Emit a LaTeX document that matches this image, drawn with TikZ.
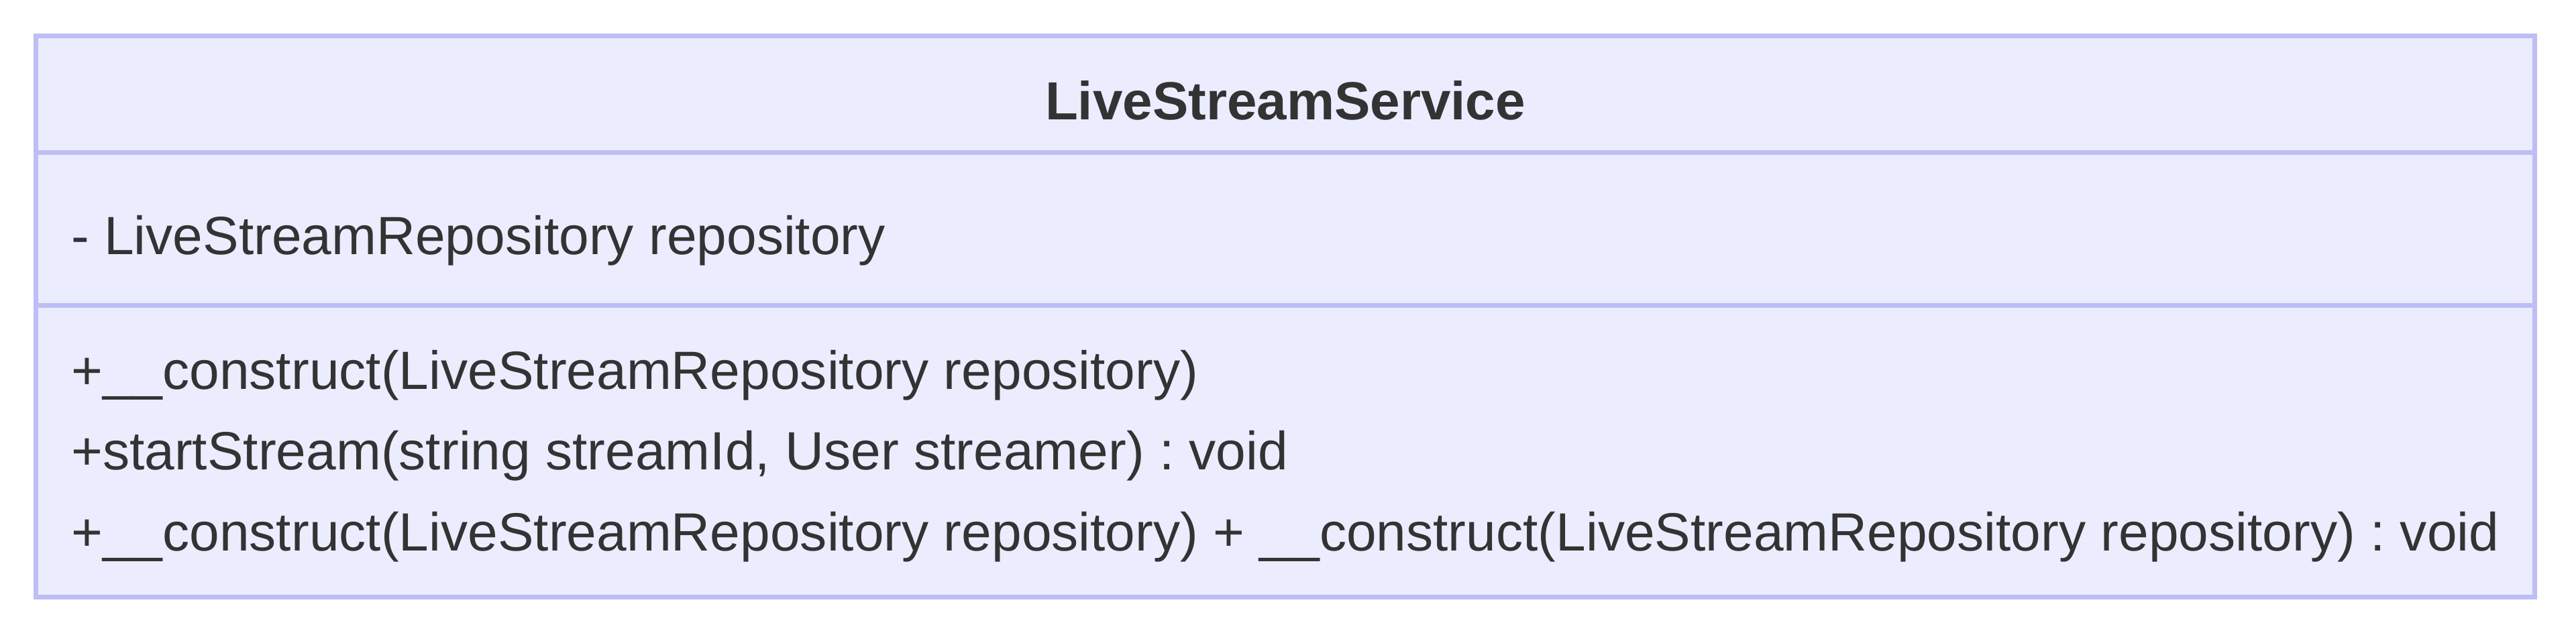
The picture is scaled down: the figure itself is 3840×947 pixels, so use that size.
\documentclass[tikz,border=0pt]{standalone}
\usepackage{fontspec}
\setmainfont{Liberation Sans}
\frenchspacing
\definecolor{boxfill}{HTML}{ECECFF}
\definecolor{boxline}{HTML}{BDBDF7}
\definecolor{txt}{HTML}{333333}
\begin{document}
\begin{tikzpicture}[x=1pt,y=-1pt,
  member/.style={anchor=base west,inner sep=0pt,text=txt,font=\fontsize{80.3}{96}\selectfont\frenchspacing},
  title/.style={anchor=base,inner sep=0pt,text=txt,font=\fontsize{80}{96}\selectfont\bfseries},
  frame/.style={draw=boxline,fill=boxfill,line width=7pt},
  sep/.style={draw=boxline,line width=7pt}]
\useasboundingbox (0,0) rectangle (3840,947);
\coordinate (tl) at (53.5,53.5);
\coordinate (br) at (3778.5,890.5);
\path[frame] (tl) rectangle (br);
\coordinate (s1l) at (53.5,227.5);
\coordinate (s1r) at (3778.5,227.5);
\coordinate (s2l) at (53.5,455.5);
\coordinate (s2r) at (3778.5,455.5);
\draw[sep] (s1l) -- (s1r);
\draw[sep] (s2l) -- (s2r);
\node[title] (name) at (1916,178) {LiveStreamService};
\node[member] (attr) at (106,379) {- LiveStreamRepository repository};
\node[member] (m1) at (106,580) {+\_\_construct(LiveStreamRepository repository)};
\node[member] (m2) at (106,700) {+startStream(string streamId, User streamer) : void};
\node[member] (m3) at (106,821) {+\_\_construct(LiveStreamRepository repository) + \_\_construct(LiveStreamRepository repository) : void};
\end{tikzpicture}
\end{document}
